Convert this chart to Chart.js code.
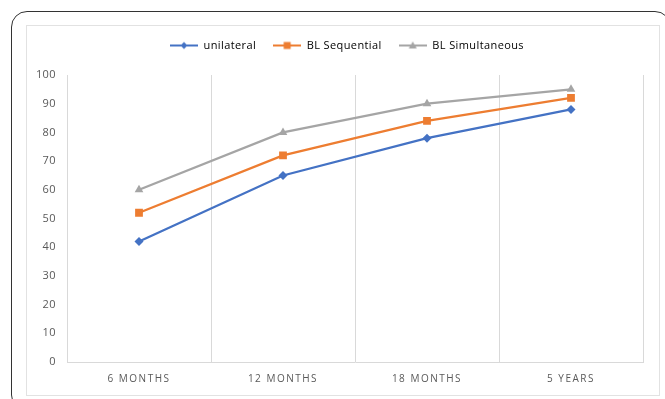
<!DOCTYPE html>
<html>
<head>
<meta charset="utf-8">
<script src="https://cdn.jsdelivr.net/npm/chart.js@4/dist/chart.umd.min.js"></script>
<style>
  html, body { margin: 0; padding: 0; background: #fff; overflow: hidden; }
  #wrap { position: relative; width: 665px; height: 399px; }
  #frame {
    position: absolute; left: 11px; top: 11px; width: 660px; height: 400px;
    border: 1.5px solid #333; border-radius: 16px; box-sizing: border-box;
  }
  #panel {
    position: absolute; left: 26px; top: 25px; width: 634px; height: 371px;
    border: 1px solid #e2e2e2; box-sizing: border-box;
  }
  canvas { position: absolute; left: 0; top: 0; }
</style>
</head>
<body>
<div id="wrap">
  <div id="frame"></div>
  <div id="panel"></div>
  <canvas id="c" width="665" height="399"></canvas>
</div>
<script>
// Categories and series
const categories = ['6 MONTHS', '12 MONTHS', '18 MONTHS', '5 YEARS'];
const unilateral = [42, 65, 78, 88];
const blSequential = [52, 72, 84, 92];
const blSimultaneous = [60, 80, 90, 95];
const seriesNames = ['unilateral', 'BL Sequential', 'BL Simultaneous'];
const yTicks = [0, 10, 20, 30, 40, 50, 60, 70, 80, 90, 100];

const colors = ['#4472C4', '#ED7D31', '#A5A5A5'];
const styles = ['rectRot', 'rect', 'triangle'];
const radii = [4.5, 5.5, 5];

// Legend swatch: a short line with the series marker in the middle
function swatch(color, style) {
  const cv = document.createElement('canvas');
  cv.width = 28; cv.height = 12;
  const g = cv.getContext('2d');
  g.strokeStyle = color; g.lineWidth = 2;
  g.beginPath(); g.moveTo(0, 6); g.lineTo(28, 6); g.stroke();
  g.fillStyle = color;
  g.beginPath();
  if (style === 'rectRot') {
    g.moveTo(14, 2.5); g.lineTo(17.5, 6); g.lineTo(14, 9.5); g.lineTo(10.5, 6);
  } else if (style === 'rect') {
    g.rect(10.5, 2.5, 7, 7);
  } else {
    g.moveTo(14, 2); g.lineTo(18, 9); g.lineTo(10, 9);
  }
  g.closePath(); g.fill();
  return cv;
}
const swatches = colors.map((c, i) => swatch(c, styles[i]));

const dataSeries = [unilateral, blSequential, blSimultaneous];

const textSpacing = {
  id: 'textSpacing',
  beforeLayout(chart) { chart.ctx.letterSpacing = '0.4px'; },
  afterLayout(chart) {
    // centre the legend over the plot area rather than the whole canvas
    chart.legend.left = chart.chartArea.left - 16;
  },
  beforeDraw(chart) {
    chart.ctx.letterSpacing = '0.4px';
    const xs = chart.scales.x;
    if (!xs._spaced) {
      const orig = xs.drawLabels;
      xs.drawLabels = function (area) {
        const c = this.ctx;
        c.save();
        c.letterSpacing = '1.5px';
        orig.call(this, area);
        c.restore();
      };
      xs._spaced = true;
    }
  }
};

const legendGap = {
  id: 'legendGap',
  beforeInit(chart) {
    const fit = chart.legend.fit;
    chart.legend.fit = function () {
      fit.call(this);
      this.height += 14;
    };
  }
};

new Chart(document.getElementById('c'), {
  type: 'line',
  data: {
    labels: categories,
    datasets: dataSeries.map((d, i) => ({
      label: seriesNames[i],
      data: d,
      borderColor: colors[i],
      backgroundColor: colors[i],
      borderWidth: 2.25,
      pointStyle: styles[i],
      pointRadius: radii[i],
      pointHoverRadius: radii[i],
      pointBorderWidth: 0,
      tension: 0,
      fill: false
    }))
  },
  options: {
    responsive: false,
    animation: false,
    events: [],
    layout: { padding: { top: 23, left: 0, right: 22, bottom: 0 } },
    plugins: {
      tooltip: { enabled: false },
      legend: {
        position: 'top',
        labels: {
          usePointStyle: true,
          pointStyleWidth: 28,
          padding: 17,
          color: '#595959',
          font: { family: 'Open Sans', size: 11 },
          generateLabels: (chart) => chart.data.datasets.map((ds, i) => ({
            text: ds.label,
            pointStyle: swatches[i],
            fillStyle: colors[i],
            strokeStyle: colors[i],
            lineWidth: 0,
            hidden: false,
            datasetIndex: i
          }))
        }
      }
    },
    scales: {
      x: {
        offset: true,
        grid: { offset: true, color: '#d9d9d9', lineWidth: 1, drawTicks: false },
        border: { display: true, color: '#d9d9d9' },
        ticks: { color: '#595959', padding: 11, font: { family: 'Open Sans', size: 10 } },
        afterFit: (s) => { s.height = 37; }
      },
      y: {
        min: 0,
        max: 100,
        afterBuildTicks: (s) => { s.ticks = yTicks.map(v => ({ value: v })); },
        grid: { display: false, drawTicks: false },
        border: { display: false },
        ticks: { color: '#595959', padding: 11, font: { family: 'Open Sans', size: 11 } },
        afterFit: (s) => { s.width = 67; }
      }
    }
  },
  plugins: [textSpacing, legendGap]
});
</script>
</body>
</html>
